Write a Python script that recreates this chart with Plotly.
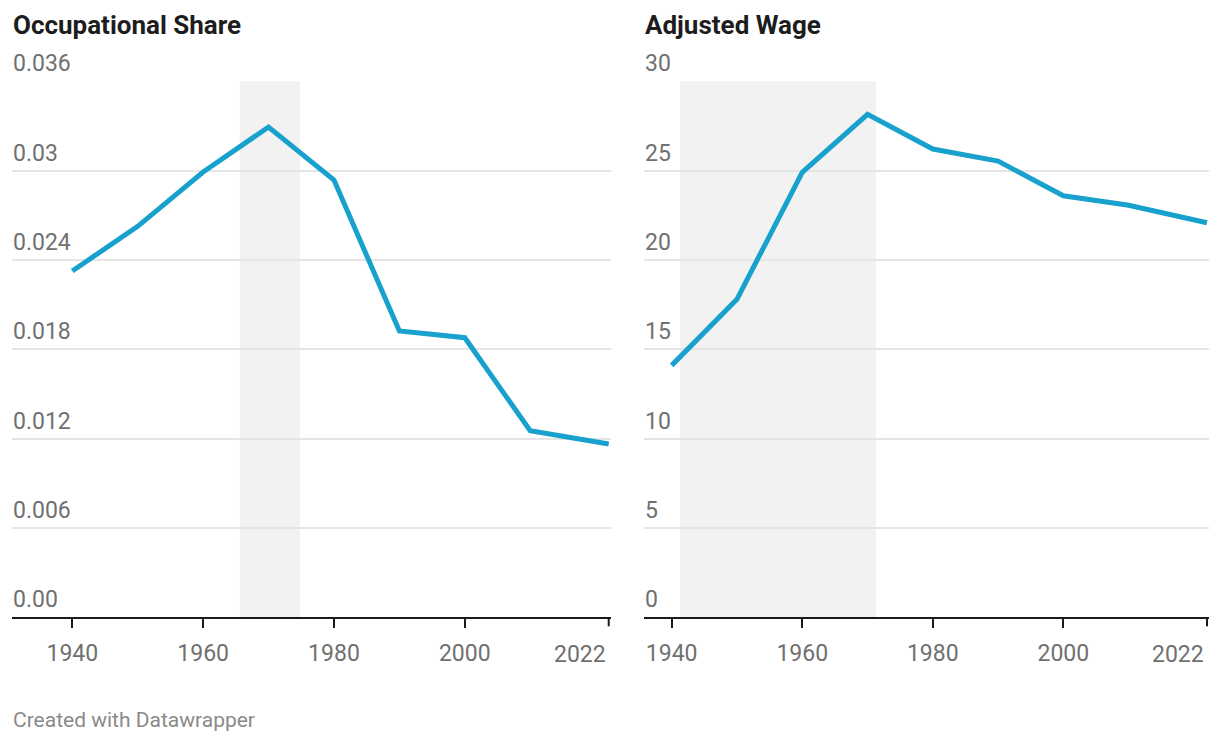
import plotly.graph_objects as go
from plotly.subplots import make_subplots

# ---- data ----
years = [1940, 1950, 1960, 1970, 1980, 1990, 2000, 2010, 2022]
occupational_share = [0.02326, 0.02626, 0.02991, 0.03293, 0.02937, 0.01923, 0.01878, 0.01253, 0.01164]
adjusted_wage = [14.10, 17.80, 24.90, 28.15, 26.21, 25.53, 23.59, 23.06, 22.08]

x_tick_vals = [1940, 1960, 1980, 2000, 2022]
x_tick_text = ["1940", "1960", "1980", "2000", "2022"]

share_tick_vals = [0, 0.006, 0.012, 0.018, 0.024, 0.03, 0.036]
share_tick_text = ["0.00", "0.006", "0.012", "0.018", "0.024", "0.03", "0.036"]
wage_tick_vals = [0, 5, 10, 15, 20, 25, 30]
wage_tick_text = ["0", "5", "10", "15", "20", "25", "30"]

share_shade = [1965.6, 1974.8]
wage_shade = [1941.3, 1971.3]

panel_titles = ["Occupational Share", "Adjusted Wage"]
footer = "Created with Datawrapper"

# ---- style ----
W, H = 1220, 744
LINE = "#18a1cd"
GRID = "#e5e5e5"
SHADE = "#f2f2f2"
LABEL = "#707070"
FONT = "Roboto"
TS = 23  # tick label size

fig = make_subplots(rows=1, cols=2)

fig.add_trace(go.Scatter(x=years, y=occupational_share, mode="lines",
                         line=dict(color=LINE, width=5), hoverinfo="skip",
                         showlegend=False), row=1, col=1)
fig.add_trace(go.Scatter(x=years, y=adjusted_wage, mode="lines",
                         line=dict(color=LINE, width=5), hoverinfo="skip",
                         showlegend=False), row=1, col=2)

ydom = [1 - 617.3 / H, 1 - 81.3 / H]
common_x = dict(showline=True, linecolor="#1a1a1a", linewidth=2, ticks="outside",
                ticklen=9, tickwidth=2, tickcolor="#1a1a1a", showgrid=False,
                zeroline=False, tickvals=x_tick_vals[:-1], ticktext=x_tick_text[:-1],
                tickfont=dict(family=FONT, size=TS, color=LABEL),
                ticklabelstandoff=5, fixedrange=True)
fig.update_xaxes(**common_x)
fig.update_xaxes(domain=[12 / W, 611 / W], range=[1930.78, 2022.35], row=1, col=1)
fig.update_xaxes(domain=[644 / W, 1209 / W], range=[1935.76, 2022.31], row=1, col=2)

common_y = dict(domain=ydom, showticklabels=False, ticks="", showgrid=True,
                gridcolor=GRID, gridwidth=2, zeroline=False, showline=False,
                fixedrange=True)
fig.update_yaxes(**common_y)
fig.update_yaxes(range=[0, 0.036], tickvals=share_tick_vals, row=1, col=1)
fig.update_yaxes(range=[0, 30], tickvals=wage_tick_vals, row=1, col=2)

shapes = []
annotations = []
panels = [("x", "y", share_shade, share_tick_vals, share_tick_text),
          ("x2", "y2", wage_shade, wage_tick_vals, wage_tick_text)]
for i, (xr, yr, shade, tv, tt) in enumerate(panels):
    shapes.append(dict(type="rect", xref=xr, yref=yr + " domain", x0=shade[0], x1=shade[1],
                       y0=0, y1=1, fillcolor=SHADE, line=dict(width=0), layer="below"))
    for v, t in zip(tv, tt):
        annotations.append(dict(xref=xr + " domain", yref=yr, x=0, y=v, text=t,
                                showarrow=False, xanchor="left", yanchor="bottom",
                                xshift=-1, yshift=2, font=dict(family=FONT, size=TS, color=LABEL)))
    # final-year label, right-aligned to the axis end
    annotations.append(dict(xref=xr, yref=yr + " domain", x=x_tick_vals[-1], y=0,
                            text=x_tick_text[-1], showarrow=False, xanchor="right",
                            yanchor="top", xshift=-1, yshift=-22,
                            font=dict(family=FONT, size=TS, color=LABEL)))
    annotations.append(dict(xref=xr + " domain", yref="paper", x=0, y=1 - 25 / H,
                            text=panel_titles[i], showarrow=False, xanchor="left",
                            yanchor="middle", xshift=-1,
                            font=dict(family=FONT, size=26, color="#1d1d1d", weight=700)))
    # tick mark at the final year
    shapes.append(dict(type="line", xref=xr, yref=yr + " domain", x0=x_tick_vals[-1],
                       x1=x_tick_vals[-1], y0=0, y1=-9 / (ydom[1] - ydom[0]) / H,
                       line=dict(color="#1a1a1a", width=2)))

annotations.append(dict(xref="paper", yref="paper", x=12 / W, y=1 - 720 / H, text=footer,
                        showarrow=False, xanchor="left", yanchor="middle", xshift=-1,
                        font=dict(family=FONT, size=21, color="#8a8a8a")))

fig.update_layout(width=W, height=H, margin=dict(l=0, r=0, t=0, b=0),
                  plot_bgcolor="white", paper_bgcolor="white",
                  shapes=shapes, annotations=annotations, showlegend=False)

fig.write_html("out.html", config={"displayModeBar": False},
               post_script="document.body.style.margin='0';")
